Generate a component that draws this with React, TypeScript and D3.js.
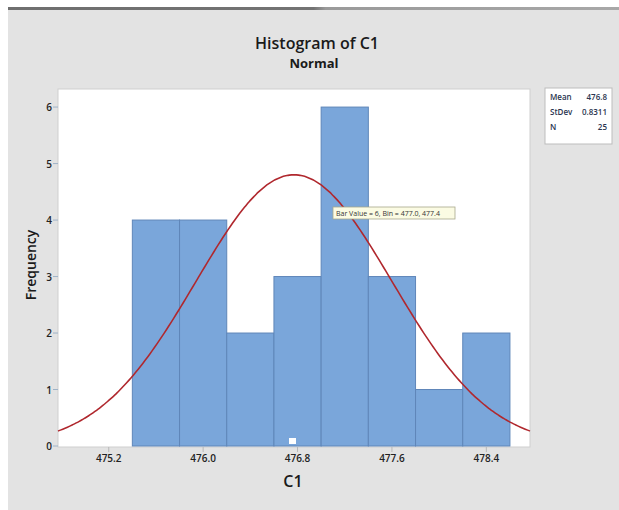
import React from "react";
import * as d3 from "d3";

const binStarts = [475.4, 475.8, 476.2, 476.6, 477.0, 477.4, 477.8, 478.2];
const binWidth = 0.4;
const counts = [4, 4, 2, 3, 6, 3, 1, 2];
const xTicks = [475.2, 476.0, 476.8, 477.6, 478.4];
const yTicks = [0, 1, 2, 3, 4, 5, 6];
const fitMean = 476.77;
const fitStDev = 0.831;
const sampleN = 25;
const legendLabels = ["Mean", "StDev", "N"];
const legendValues = ["476.8", "0.8311", "25"];
const tooltipText = "Bar Value = 6, Bin = 477.0, 477.4";

const W = 619;
const H = 510;
const plot = { left: 58, right: 530, top: 89, bottom: 447 };
const FONT = "'Open Sans', 'Noto Sans', sans-serif";

export default function App() {
  const x = d3.scaleLinear().domain([474.77, 478.77]).range([plot.left, plot.right]);
  const y = d3.scaleLinear().domain([0, 6.32]).range([446, plot.top]);

  const pdf = (v: number) =>
    (sampleN * binWidth) / (fitStDev * Math.sqrt(2 * Math.PI)) *
    Math.exp(-0.5 * ((v - fitMean) / fitStDev) ** 2);
  const [d0, d1] = x.domain();
  const curvePts = d3.range(0, 201).map((i) => d0 + ((d1 - d0) * i) / 200);
  const line = d3
    .line<number>()
    .x((v) => x(v))
    .y((v) => y(pdf(v)))
    .curve(d3.curveBasis);

  return (
    <svg
      width={W}
      height={H}
      style={{ position: "absolute", left: 0, top: 0, display: "block" }}
      fontFamily={FONT}
    >
      <defs>
        <linearGradient id="topline" x1="0" x2="1" y1="0" y2="0">
          <stop offset="0" stopColor="#6f6f6f" />
          <stop offset="0.5" stopColor="#737373" />
          <stop offset="0.52" stopColor="#9a9a9a" />
          <stop offset="1" stopColor="#a8a8a8" />
        </linearGradient>
      </defs>
      <rect x={0} y={0} width={W} height={H} fill="#ffffff" />
      <rect x={8} y={7} width={W - 8} height={H - 7} fill="#e3e3e3" />
      <rect x={8} y={7} width={W - 8} height={3} fill="url(#topline)" />

      {/* Titles */}
      <text x={317} y={49} textAnchor="middle" fontSize={16} fontWeight={600} fill="#1a1a1a">
        Histogram of C1
      </text>
      <text x={314} y={68} textAnchor="middle" fontSize={13} fontWeight={700} fill="#1a1a1a">
        Normal
      </text>

      {/* Plot area */}
      <rect
        x={plot.left}
        y={plot.top}
        width={plot.right - plot.left}
        height={plot.bottom - plot.top}
        fill="#ffffff"
        stroke="#cfcfcf"
        strokeWidth={1}
      />

      {/* Bars */}
      {binStarts.map((b, i) => (
        <rect
          key={i}
          x={x(b)}
          y={y(counts[i])}
          width={x(b + binWidth) - x(b)}
          height={y(0) - y(counts[i])}
          fill="#7aa6da"
          stroke="#5f86b9"
          strokeWidth={1}
        />
      ))}

      {/* Normal curve */}
      <path d={line(curvePts) || ""} fill="none" stroke="#b0282e" strokeWidth={1.6} />

      {/* Selection marker */}
      <rect x={289} y={438} width={7} height={6} fill="#ffffff" />

      {/* Y axis */}
      {yTicks.map((t) => (
        <g key={t}>
          <line x1={plot.left - 5} x2={plot.left} y1={y(t)} y2={y(t)} stroke="#9fb3c8" strokeWidth={1} />
          <text x={plot.left - 6} y={y(t) + 4} textAnchor="end" fontSize={10} fontWeight={600} fill="#222">
            {t}
          </text>
        </g>
      ))}
      <text
        transform={`translate(36,265) rotate(-90)`}
        textAnchor="middle"
        fontSize={14}
        fontWeight={600}
        fill="#1a1a1a"
      >
        Frequency
      </text>

      {/* X axis */}
      {xTicks.map((t) => (
        <g key={t}>
          <line x1={x(t)} x2={x(t)} y1={plot.bottom} y2={plot.bottom + 5} stroke="#b8b8b8" strokeWidth={1} />
          <text x={x(t)} y={plot.bottom + 15} textAnchor="middle" fontSize={10} fontWeight={600} fill="#222">
            {t.toFixed(1)}
          </text>
        </g>
      ))}
      <text x={293} y={487} textAnchor="middle" fontSize={16} fontWeight={600} fill="#1a1a1a">
        C1
      </text>

      {/* Tooltip */}
      <rect x={333} y={207} width={122} height={12} fill="#fbfbe3" stroke="#a9a98c" strokeWidth={0.8} />
      <text x={336} y={216} fontSize={7} fill="#333">
        {tooltipText}
      </text>

      {/* Legend */}
      <rect x={545} y={88} width={67} height={56} fill="#ffffff" stroke="#bdbdbd" strokeWidth={1} />
      {legendLabels.map((l, i) => (
        <g key={l}>
          <text x={550} y={100 + i * 15} fontSize={8} fontWeight={600} fill="#2a3550">
            {l}
          </text>
          <text x={607} y={100 + i * 15} textAnchor="end" fontSize={8} fontWeight={600} fill="#2a3550">
            {legendValues[i]}
          </text>
        </g>
      ))}
    </svg>
  );
}
